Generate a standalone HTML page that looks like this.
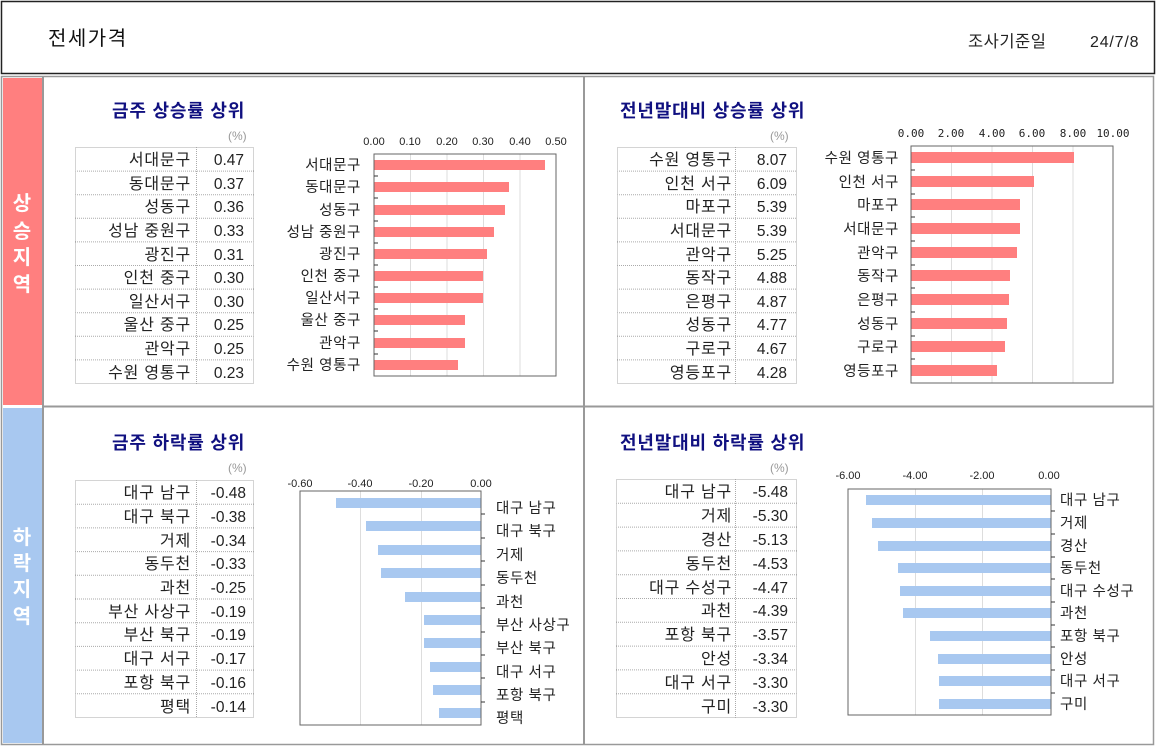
<!DOCTYPE html>
<html><head><meta charset="utf-8"><style>
body{margin:0;background:#fff}
svg{display:block;font-family:"Liberation Sans","Noto Sans CJK KR","NanumGothic",sans-serif}
.t{font-size:16px;letter-spacing:0.8px;fill:#222}
.v{font-size:15.5px;fill:#222}
.c{font-size:14.5px;letter-spacing:0.6px;fill:#222}
.a{font-size:11px;fill:#222}
.h{font-size:18px;letter-spacing:0.8px;font-weight:bold;fill:#101080}
.s{font-size:20px;font-weight:bold;fill:#fff}
.p{font-size:12px;fill:#999}
</style></head><body>
<svg width="1157" height="751" viewBox="0 0 1157 751">
<defs><clipPath id="cp"><rect x="586" y="90" width="228" height="40"/></clipPath><clipPath id="cp2"><rect x="586" y="420" width="234" height="40"/></clipPath></defs>
<rect x="0" y="0" width="1157" height="751" fill="#fff"/>
<rect x="1.5" y="1.5" width="1153" height="72" fill="none" stroke="#222" stroke-width="1.5"/>
<text x="48" y="45" style="font-size:20px;letter-spacing:1.5px;fill:#111">전세가격</text>
<text x="968" y="47" style="font-size:16.5px;letter-spacing:0.5px;fill:#222">조사기준일</text>
<text x="1090" y="47" style="font-size:16px;letter-spacing:0.8px;fill:#222">24/7/8</text>
<rect x="1.5" y="76.5" width="1152" height="668" fill="none" stroke="#999" stroke-width="1.5"/>
<rect x="3" y="78" width="39" height="327" fill="#ff7f7f"/>
<rect x="3" y="408" width="39" height="335" fill="#a8c8f0"/>
<line x1="43" y1="77" x2="43" y2="744" stroke="#999" stroke-width="2"/>
<line x1="584" y1="77" x2="584" y2="744" stroke="#999" stroke-width="2"/>
<line x1="43" y1="406.5" x2="1153" y2="406.5" stroke="#999" stroke-width="2"/>
<g text-anchor="middle"><text x="22" y="210" class="s">상</text><text x="22" y="238" class="s">승</text><text x="22" y="264" class="s">지</text><text x="22" y="291" class="s">역</text>
<text x="22" y="544" class="s">하</text><text x="22" y="570" class="s">락</text><text x="22" y="596" class="s">지</text><text x="22" y="623" class="s">역</text></g>

<!-- Panel 1 -->
<text x="112" y="117" class="h">금주 상승률 상위</text>
<text x="228" y="140" class="p">(%)</text>
<g fill="none" stroke="#aaa" stroke-dasharray="1,1">
<rect x="75.5" y="147.5" width="178" height="236"/><line x1="196.5" y1="147" x2="196.5" y2="384"/>
<path d="M75 171.1H254M75 194.7H254M75 218.3H254M75 241.9H254M75 265.5H254M75 289.1H254M75 312.7H254M75 336.3H254M75 359.9H254"/>
</g>
<g class="t" text-anchor="end">
<text x="191" y="165">서대문구</text><text x="191" y="189">동대문구</text><text x="191" y="212">성동구</text><text x="191" y="236">성남 중원구</text><text x="191" y="260">광진구</text><text x="191" y="283">인천 중구</text><text x="191" y="307">일산서구</text><text x="191" y="330">울산 중구</text><text x="191" y="354">관악구</text><text x="191" y="378">수원 영통구</text>
</g>
<g class="v" text-anchor="end">
<text x="244" y="165">0.47</text><text x="244" y="189">0.37</text><text x="244" y="212">0.36</text><text x="244" y="236">0.33</text><text x="244" y="260">0.31</text><text x="244" y="283">0.30</text><text x="244" y="307">0.30</text><text x="244" y="330">0.25</text><text x="244" y="354">0.25</text><text x="244" y="378">0.23</text>
</g>
<g stroke="#ddd"><path d="M410.5 154V376M447 154V376M483.5 154V376M520 154V376"/></g>
<g fill="#ff7f7f">
<rect x="374" y="160" width="171" height="10"/><rect x="374" y="182" width="135" height="10"/><rect x="374" y="205" width="131" height="10"/><rect x="374" y="227" width="120" height="10"/><rect x="374" y="249" width="113" height="10"/><rect x="374" y="271" width="109" height="10"/><rect x="374" y="293" width="109" height="10"/><rect x="374" y="315" width="91" height="10"/><rect x="374" y="338" width="91" height="10"/><rect x="374" y="360" width="84" height="10"/>
</g>
<rect x="374" y="154" width="182" height="222" fill="none" stroke="#666"/>
<path d="M374 176H378M374 198H378M374 221H378M374 243H378M374 265H378M374 287H378M374 309H378M374 331H378M374 354H378" stroke="#333"/>
<g class="a" text-anchor="middle"><text x="374" y="145">0.00</text><text x="410" y="145">0.10</text><text x="447" y="145">0.20</text><text x="483" y="145">0.30</text><text x="520" y="145">0.40</text><text x="556" y="145">0.50</text></g>
<g class="c" text-anchor="end">
<text x="361" y="170">서대문구</text><text x="361" y="192">동대문구</text><text x="361" y="215">성동구</text><text x="361" y="237">성남 중원구</text><text x="361" y="259">광진구</text><text x="361" y="281">인천 중구</text><text x="361" y="303">일산서구</text><text x="361" y="325">울산 중구</text><text x="361" y="348">관악구</text><text x="361" y="370">수원 영통구</text>
</g>

<!-- Panel 2 -->
<text x="620" y="117" class="h" clip-path="url(#cp)">전년말대비 상승률 상위</text>
<text x="770" y="140" class="p">(%)</text>
<g fill="none" stroke="#aaa" stroke-dasharray="1,1">
<rect x="617.5" y="147.5" width="179" height="236"/><line x1="735.5" y1="147" x2="735.5" y2="384"/>
<path d="M617 171.1H797M617 194.7H797M617 218.3H797M617 241.9H797M617 265.5H797M617 289.1H797M617 312.7H797M617 336.3H797M617 359.9H797"/>
</g>
<g class="t" text-anchor="end">
<text x="732" y="165">수원 영통구</text><text x="732" y="189">인천 서구</text><text x="732" y="212">마포구</text><text x="732" y="236">서대문구</text><text x="732" y="260">관악구</text><text x="732" y="283">동작구</text><text x="732" y="307">은평구</text><text x="732" y="330">성동구</text><text x="732" y="354">구로구</text><text x="732" y="378">영등포구</text>
</g>
<g class="v" text-anchor="end">
<text x="787" y="165">8.07</text><text x="787" y="189">6.09</text><text x="787" y="212">5.39</text><text x="787" y="236">5.39</text><text x="787" y="260">5.25</text><text x="787" y="283">4.88</text><text x="787" y="307">4.87</text><text x="787" y="330">4.77</text><text x="787" y="354">4.67</text><text x="787" y="378">4.28</text>
</g>
<g stroke="#ddd"><path d="M951.5 146V383M992 146V383M1032.5 146V383M1073 146V383"/></g>
<g fill="#ff7f7f">
<rect x="911" y="152" width="163" height="11"/><rect x="911" y="176" width="123" height="11"/><rect x="911" y="199" width="109" height="11"/><rect x="911" y="223" width="109" height="11"/><rect x="911" y="247" width="106" height="11"/><rect x="911" y="270" width="99" height="11"/><rect x="911" y="294" width="98" height="11"/><rect x="911" y="318" width="96" height="11"/><rect x="911" y="341" width="94" height="11"/><rect x="911" y="365" width="86" height="11"/>
</g>
<rect x="911" y="146" width="202" height="237" fill="none" stroke="#666"/>
<path d="M911 170H915M911 194H915M911 217H915M911 241H915M911 265H915M911 288H915M911 312H915M911 336H915M911 359H915" stroke="#333"/>
<g text-anchor="middle" style="font-size:11px;fill:#222;font-family:'DejaVu Sans Mono','Liberation Mono',monospace"><text x="911" y="137">0.00</text><text x="951" y="137">2.00</text><text x="992" y="137">4.00</text><text x="1032" y="137">6.00</text><text x="1073" y="137">8.00</text><text x="1113" y="137">10.00</text></g>
<g class="c" text-anchor="end">
<text x="899" y="163">수원 영통구</text><text x="899" y="187">인천 서구</text><text x="899" y="210">마포구</text><text x="899" y="234">서대문구</text><text x="899" y="258">관악구</text><text x="899" y="281">동작구</text><text x="899" y="305">은평구</text><text x="899" y="329">성동구</text><text x="899" y="352">구로구</text><text x="899" y="376">영등포구</text>
</g>

<!-- Panel 3 -->
<text x="112" y="449" class="h">금주 하락률 상위</text>
<text x="228" y="472" class="p">(%)</text>
<g fill="none" stroke="#aaa" stroke-dasharray="1,1">
<rect x="75.5" y="480.5" width="178" height="237"/><line x1="196.5" y1="480" x2="196.5" y2="718"/>
<path d="M75 504.2H254M75 527.9H254M75 551.6H254M75 575.3H254M75 599H254M75 622.7H254M75 646.4H254M75 670.1H254M75 693.8H254"/>
</g>
<g class="t" text-anchor="end">
<text x="191" y="498">대구 남구</text><text x="191" y="522">대구 북구</text><text x="191" y="546">거제</text><text x="191" y="569">동두천</text><text x="191" y="593">과천</text><text x="191" y="617">부산 사상구</text><text x="191" y="640">부산 북구</text><text x="191" y="664">대구 서구</text><text x="191" y="688">포항 북구</text><text x="191" y="712">평택</text>
</g>
<g class="v" text-anchor="end">
<text x="246" y="498">-0.48</text><text x="246" y="522">-0.38</text><text x="246" y="546">-0.34</text><text x="246" y="569">-0.33</text><text x="246" y="593">-0.25</text><text x="246" y="617">-0.19</text><text x="246" y="640">-0.19</text><text x="246" y="664">-0.17</text><text x="246" y="688">-0.16</text><text x="246" y="712">-0.14</text>
</g>
<g stroke="#ddd"><path d="M360.5 491V725M421.5 491V725"/></g>
<g fill="#a8c8f0">
<rect x="336" y="498" width="145" height="10"/><rect x="366" y="521" width="115" height="10"/><rect x="378" y="545" width="103" height="10"/><rect x="381" y="568" width="100" height="10"/><rect x="405" y="592" width="76" height="10"/><rect x="424" y="615" width="57" height="10"/><rect x="424" y="638" width="57" height="10"/><rect x="430" y="662" width="51" height="10"/><rect x="433" y="685" width="48" height="10"/><rect x="439" y="708" width="42" height="10"/>
</g>
<rect x="300" y="491" width="181" height="234" fill="none" stroke="#666"/>
<path d="M481 514H485M481 538H485M481 561H485M481 585H485M481 608H485M481 632H485M481 655H485M481 678H485M481 702H485" stroke="#333"/>
<g class="a" text-anchor="middle"><text x="300" y="487">-0.60</text><text x="360" y="487">-0.40</text><text x="421" y="487">-0.20</text><text x="481" y="487">0.00</text></g>
<g class="c" text-anchor="start">
<text x="496" y="513">대구 남구</text><text x="496" y="536">대구 북구</text><text x="496" y="560">거제</text><text x="496" y="583">동두천</text><text x="496" y="607">과천</text><text x="496" y="630">부산 사상구</text><text x="496" y="653">부산 북구</text><text x="496" y="677">대구 서구</text><text x="496" y="700">포항 북구</text><text x="496" y="723">평택</text>
</g>

<!-- Panel 4 -->
<text x="620" y="449" class="h" clip-path="url(#cp2)">전년말대비 하락률 상위</text>
<text x="770" y="472" class="p">(%)</text>
<g fill="none" stroke="#aaa" stroke-dasharray="1,1">
<rect x="616.5" y="479.5" width="180" height="238"/><line x1="735.5" y1="479" x2="735.5" y2="718"/>
<path d="M616 503.3H797M616 527.1H797M616 550.9H797M616 574.7H797M616 598.5H797M616 622.3H797M616 646.1H797M616 669.9H797M616 693.7H797"/>
</g>
<g class="t" text-anchor="end">
<text x="732" y="497">대구 남구</text><text x="732" y="521">거제</text><text x="732" y="545">경산</text><text x="732" y="569">동두천</text><text x="732" y="593">대구 수성구</text><text x="732" y="616">과천</text><text x="732" y="640">포항 북구</text><text x="732" y="664">안성</text><text x="732" y="688">대구 서구</text><text x="732" y="712">구미</text>
</g>
<g class="v" text-anchor="end">
<text x="788" y="497">-5.48</text><text x="788" y="521">-5.30</text><text x="788" y="545">-5.13</text><text x="788" y="569">-4.53</text><text x="788" y="593">-4.47</text><text x="788" y="616">-4.39</text><text x="788" y="640">-3.57</text><text x="788" y="664">-3.34</text><text x="788" y="688">-3.30</text><text x="788" y="712">-3.30</text>
</g>
<g stroke="#ddd"><path d="M915.5 489V715M982.5 489V715"/></g>
<g fill="#a8c8f0">
<rect x="866" y="495" width="185" height="10"/><rect x="872" y="518" width="179" height="10"/><rect x="878" y="541" width="173" height="10"/><rect x="898" y="563" width="153" height="10"/><rect x="900" y="586" width="151" height="10"/><rect x="903" y="608" width="148" height="10"/><rect x="930" y="631" width="121" height="10"/><rect x="938" y="654" width="113" height="10"/><rect x="939" y="676" width="112" height="10"/><rect x="939" y="699" width="112" height="10"/>
</g>
<rect x="848" y="489" width="203" height="226" fill="none" stroke="#666"/>
<path d="M1051 511H1055M1051 534H1055M1051 557H1055M1051 579H1055M1051 602H1055M1051 625H1055M1051 647H1055M1051 670H1055M1051 693H1055" stroke="#333"/>
<g class="a" text-anchor="middle"><text x="848" y="479">-6.00</text><text x="915" y="479">-4.00</text><text x="982" y="479">-2.00</text><text x="1049" y="479">0.00</text></g>
<g class="c" text-anchor="start">
<text x="1060" y="505">대구 남구</text><text x="1060" y="528">거제</text><text x="1060" y="551">경산</text><text x="1060" y="573">동두천</text><text x="1060" y="596">대구 수성구</text><text x="1060" y="618">과천</text><text x="1060" y="641">포항 북구</text><text x="1060" y="664">안성</text><text x="1060" y="686">대구 서구</text><text x="1060" y="709">구미</text>
</g>
</svg>
</body></html>
